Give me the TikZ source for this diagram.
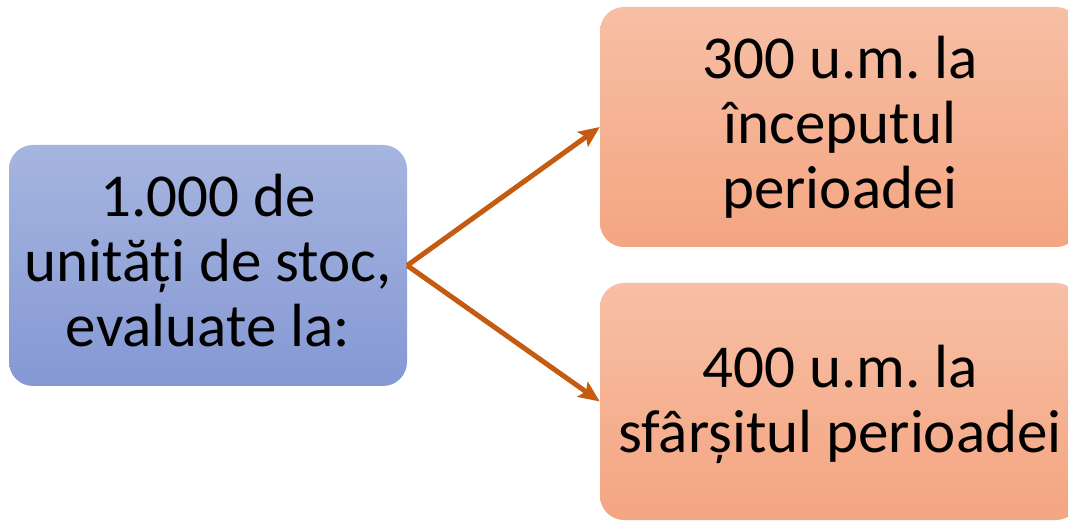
\documentclass[tikz,border=0pt]{standalone}
\usepackage{fontspec}
\setmainfont{Carlito}
\frenchspacing
\usetikzlibrary{arrows.meta}
\definecolor{bluetop}{RGB}{166,181,223}
\definecolor{bluebot}{RGB}{133,152,212}
\definecolor{orgtop}{RGB}{247,191,165}
\definecolor{orgbot}{RGB}{244,165,129}
\definecolor{arrowc}{RGB}{197,90,17}
\newcommand{\hstrut}[1]{\rule{0pt}{#1}}
\newcommand{\dstrut}[1]{\rule[-#1]{0pt}{#1}}
\tikzset{
  card/.style={rounded corners=24pt, align=center, inner sep=0pt,
    font=\fontsize{61}{65}\selectfont, text=black},
  bluecard/.style={card, top color=bluetop, bottom color=bluebot},
  orangecard/.style={card, top color=orgtop, bottom color=orgbot},
  link/.style={draw=arrowc, line width=5pt,
    -{Stealth[length=21pt,width=18pt,inset=4pt]}}
}
\begin{document}
\begin{tikzpicture}[x=1pt,y=1pt]
  \useasboundingbox (0,0) rectangle (1068,522);
  \clip (0,0) rectangle (1068,522);
  \node[bluecard, minimum width=398pt, minimum height=241pt] (src) at (208,256.5)
    {\hstrut{49pt}1.000 de\\unități de stoc,\\evaluate la:\dstrut{16pt}};
  \node[orangecard, minimum width=480pt, minimum height=240pt] (start) at (840,395)
    {\hstrut{49pt}300 u.m. la\\începutul\\perioadei\dstrut{16pt}};
  \node[orangecard, minimum width=480pt, minimum height=237pt] (end) at (840,120.5)
    {\hstrut{54pt}400 u.m. la\\sfârșitul perioadei\dstrut{16pt}};
  \draw[link] (src.east) -- (start.west);
  \draw[link] (src.east) -- (end.west);
\end{tikzpicture}
\end{document}
